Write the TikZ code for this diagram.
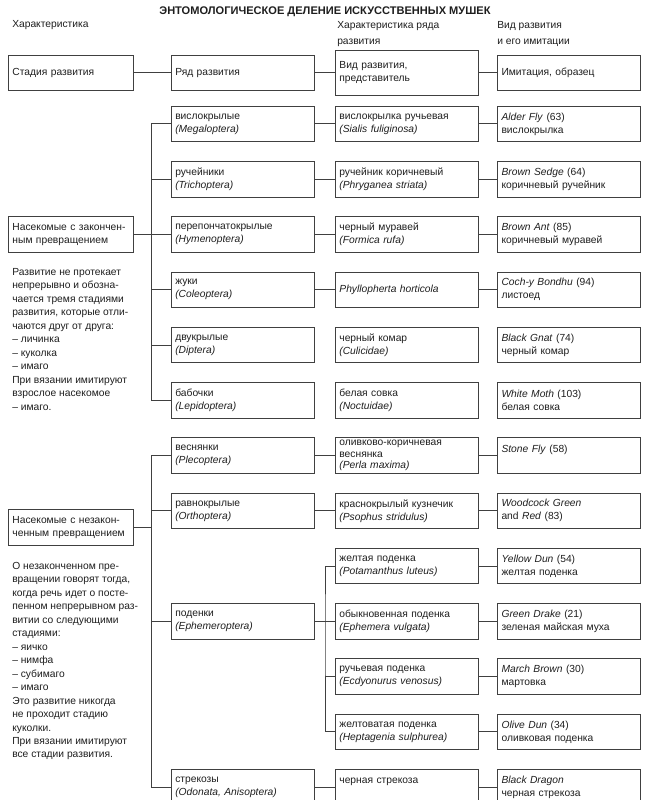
\documentclass[tikz,border=0pt]{standalone}
\usepackage{fontspec}
\setmainfont{Liberation Sans}
\usetikzlibrary{positioning, calc}
\definecolor{ink}{HTML}{1E1E1E}
\definecolor{rule}{HTML}{404040}

\begin{document}
\begin{tikzpicture}[
  node distance=14.25pt and 13.5pt,
  cell/.style={rectangle, draw=rule, line width=0.6pt, minimum height=26.6pt,
               text width=101.5pt, inner xsep=3pt, inner ysep=1pt, align=left,
               font=\fontsize{7.7}{9.75}\selectfont, text=ink},
  wide/.style={cell, text width=87.75pt},
  head/.style={anchor=north west, inner sep=0pt, align=left,
               font=\fontsize{7.7}{12.75}\selectfont, text=ink},
  note/.style={anchor=north west, inner sep=0pt, align=left,
               font=\fontsize{7.7}{10.1}\selectfont, text=ink},
  link/.style={draw=rule, line width=0.7pt}
]
  \useasboundingbox (0,0) rectangle (487.5pt,-600pt);

  \node[font=\fontsize{8.3}{10}\selectfont\bfseries, text=ink] (title) at (243.75pt,-8.8pt)
    {ЭНТОМОЛОГИЧЕСКОЕ ДЕЛЕНИЕ ИСКУССТВЕННЫХ МУШЕК};
  \node[head] (hchar) at (9pt,-15.5pt) {Характеристика};
  \node[head] (hseries) at (252.75pt,-15.5pt) {Характеристика ряда\\развития};
  \node[head] (himit) at (372.75pt,-15.5pt) {Вид развития\\и его имитации};

  \node[cell, minimum height=33.75pt, anchor=north west] (species0) at (251.25pt,-37.5pt)
    {Вид развития,\\представитель};
  \node[cell, left=15pt of species0] (series) {Ряд развития};
  \node[wide, left=27.75pt of series] (stage) {Стадия развития};
  \node[cell, right=of species0] (imit) {Имитация, образец};

  \node[cell, below=7.5pt of species0] (sp1) {вислокрылка ручьевая\\\textit{(Sialis fuliginosa)}};
  \node[cell, below=of sp1] (sp2) {ручейник коричневый\\\textit{(Phryganea striata)}};
  \node[cell, below=of sp2] (sp3) {черный муравей\\\textit{(Formica rufa)}};
  \node[cell, below=of sp3] (sp4) {\textit{Phyllopherta horticola}};
  \node[cell, below=of sp4] (sp5) {черный комар\\\textit{(Culicidae)}};
  \node[cell, below=of sp5] (sp6) {белая совка\\\textit{(Noctuidae)}};
  \node[cell, below=of sp6, inner ysep=0.3pt, font=\fontsize{7.7}{8.6}\selectfont] (sp7)
    {оливково-коричневая\\веснянка\\\textit{(Perla maxima)}};
  \node[cell, below=of sp7] (sp8) {краснокрылый кузнечик\\\textit{(Psophus stridulus)}};
  \node[cell, below=of sp8] (sp9) {желтая поденка\\\textit{(Potamanthus luteus)}};
  \node[cell, below=of sp9] (sp10) {обыкновенная поденка\\\textit{(Ephemera vulgata)}};
  \node[cell, below=of sp10] (sp11) {ручьевая поденка\\\textit{(Ecdyonurus venosus)}};
  \node[cell, below=of sp11] (sp12) {желтоватая поденка\\\textit{(Heptagenia sulphurea)}};
  \node[cell, below=of sp12] (sp13) {черная стрекоза\\~};

  \node[cell, right=of sp1] (fly1) {\textit{Alder Fly} (63)\\вислокрылка};
  \node[cell, right=of sp2] (fly2) {\textit{Brown Sedge} (64)\\коричневый ручейник};
  \node[cell, right=of sp3] (fly3) {\textit{Brown Ant} (85)\\коричневый муравей};
  \node[cell, right=of sp4] (fly4) {\textit{Coch-y Bondhu} (94)\\листоед};
  \node[cell, right=of sp5] (fly5) {\textit{Black Gnat} (74)\\черный комар};
  \node[cell, right=of sp6] (fly6) {\textit{White Moth} (103)\\белая совка};
  \node[cell, right=of sp7] (fly7) {\textit{Stone Fly} (58)\\~};
  \node[cell, right=of sp8] (fly8) {\textit{Woodcock Green}\\and \textit{Red} (83)};
  \node[cell, right=of sp9] (fly9) {\textit{Yellow Dun} (54)\\желтая поденка};
  \node[cell, right=of sp10] (fly10) {\textit{Green Drake} (21)\\зеленая майская муха};
  \node[cell, right=of sp11] (fly11) {\textit{March Brown} (30)\\мартовка};
  \node[cell, right=of sp12] (fly12) {\textit{Olive Dun} (34)\\оливковая поденка};
  \node[cell, right=of sp13] (fly13) {\textit{Black Dragon}\\черная стрекоза};

  \node[cell, left=15pt of sp1] (ord1) {вислокрылые\\\textit{(Megaloptera)}};
  \node[cell, left=15pt of sp2] (ord2) {ручейники\\\textit{(Trichoptera)}};
  \node[cell, left=15pt of sp3] (ord3) {перепончатокрылые\\\textit{(Hymenoptera)}};
  \node[cell, left=15pt of sp4] (ord4) {жуки\\\textit{(Coleoptera)}};
  \node[cell, left=15pt of sp5] (ord5) {двукрылые\\\textit{(Diptera)}};
  \node[cell, left=15pt of sp6] (ord6) {бабочки\\\textit{(Lepidoptera)}};
  \node[cell, left=15pt of sp7] (ord7) {веснянки\\\textit{(Plecoptera)}};
  \node[cell, left=15pt of sp8] (ord8) {равнокрылые\\\textit{(Orthoptera)}};
  \node[cell, left=15pt of sp10] (ord9) {поденки\\\textit{(Ephemeroptera)}};
  \node[cell, left=15pt of sp13] (ord10) {стрекозы\\\textit{(Odonata, Anisoptera)}};

  \node[wide, left=27.75pt of ord3] (full) {Насекомые с закончен-\\ным превращением};
  \node[wide, anchor=east] (partial) at ($(ord8.west)+(-27.75pt,-12.6pt)$)
    {Насекомые с незакон-\\ченным превращением};

  \node[note] (fullnote) at (9pt,-201pt) {Развитие не протекает\\
    непрерывно и обозна-\\чается тремя стадиями\\развития, которые отли-\\
    чаются друг от друга:\\– личинка\\– куколка\\– имаго\\
    При вязании имитируют\\взрослое насекомое\\– имаго.};
  \node[note] (partnote) at (9pt,-421.5pt) {О незаконченном пре-\\
    вращении говорят тогда,\\когда речь идет о посте-\\пенном непрерывном раз-\\
    витии со следующими\\стадиями:\\– яичко\\– нимфа\\– субимаго\\– имаго\\
    Это развитие никогда\\не проходит стадию\\куколки.\\
    При вязании имитируют\\все стадии развития.};

  \draw[link] (stage) -- (series);
  \draw[link] (series) -- (species0);
  \draw[link] (species0) -- (imit);
  \foreach \i in {1,2,3,4,7,8}
    \draw[link] (ord\i) -- (sp\i);
  \draw[link] (ord10) -- (sp13);
  \foreach \i in {1,2,3,4,7,8,9,10,11,12,13}
    \draw[link] (sp\i) -- (fly\i);

  \coordinate (busA) at ($(full.east)+(13.5pt,0)$);
  \draw[link] (full) -- (busA);
  \draw[link] (ord1.west) -| (busA) |- (ord6.west);
  \foreach \i in {2,...,5}
    \draw[link] (ord\i.west) -- (ord\i.west -| busA);

  \coordinate (busB) at ($(partial.east)+(13.5pt,0)$);
  \draw[link] (partial) -- (busB);
  \draw[link] (ord7.west) -| (busB) |- (ord10.west);
  \foreach \i in {8,9}
    \draw[link] (ord\i.west) -- (ord\i.west -| busB);

  \coordinate (forkE) at ($(ord9.east)+(7.5pt,0)$);
  \draw[link] (ord9) -- (forkE);
  \draw[link] (sp9.west) -| (forkE) |- (sp12.west);
  \foreach \i in {10,11}
    \draw[link] (sp\i.west) -- (sp\i.west -| forkE);
\end{tikzpicture}
\end{document}
